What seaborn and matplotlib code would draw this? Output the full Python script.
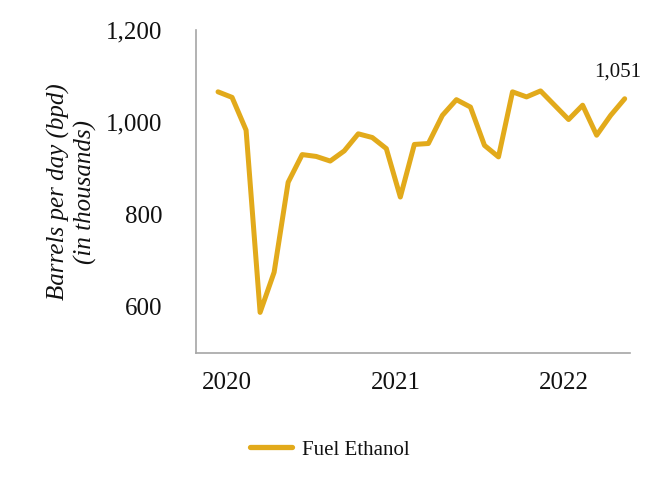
import numpy as np
import matplotlib
matplotlib.use('Agg')
import matplotlib.pyplot as plt
import pandas as pd
import seaborn as sns

# =========================
# DATA (monthly, Jan 2020 - Jun 2022)
# =========================
months = pd.date_range('2020-01-01', periods=30, freq='MS')
ethanol = [1066, 1054, 983, 588, 675, 870, 930, 926, 916, 938, 975, 967,
           943, 838, 952, 954, 1015, 1049, 1033, 950, 925, 1066, 1055, 1068,
           1037, 1006, 1037, 972, 1015, 1051]
year_labels = ['2020', '2021', '2022']
series_label = 'Fuel Ethanol'

line_color = '#E2AA1B'

# =========================
# PLOTTING SETUP
# =========================
sns.set_theme(style='white')
plt.rcParams['font.family'] = ['Liberation Serif', 'DejaVu Serif']
plt.rcParams['text.color'] = '#111111'
plt.rcParams['axes.labelcolor'] = '#111111'
plt.rcParams['xtick.color'] = '#111111'
plt.rcParams['ytick.color'] = '#111111'

df = pd.DataFrame({'idx': np.arange(len(months)), 'value': ethanol,
                   'series': series_label})

fig = plt.figure(figsize=(6.6, 5), dpi=100)
ax = fig.add_axes([0.297, 0.294, 0.658, 0.646])

sns.lineplot(data=df, x='idx', y='value', hue='series',
             palette=[line_color], linewidth=3.6, ax=ax, legend=True)

ax.set_ylim(500, 1200)
ax.set_yticks([600, 800, 1000, 1200])
ax.set_yticklabels([f'{v:,}' for v in [600, 800, 1000, 1200]], fontsize=18)
ax.set_xlim(-1.57, 29.4)
year_pos = [i for i, m in enumerate(months) if m.month == 1]
ax.set_xticks([p + 0.65 for p in year_pos])
ax.set_xticklabels(year_labels, fontsize=18)
ax.tick_params(axis='y', length=0, pad=24)
ax.tick_params(axis='x', length=0, pad=14)

for s in ['top', 'right']:
    ax.spines[s].set_visible(False)
for s in ['left', 'bottom']:
    ax.spines[s].set_color('#a6a6a6')
    ax.spines[s].set_linewidth(1.2)

ax.set_xlabel('')
ax.set_ylabel('Barrels per day (bpd)\n(in thousands)',
              fontsize=18, fontstyle='italic', linespacing=1.2, labelpad=7)

# last value label
ax.annotate(f'{ethanol[-1]:,}', xy=(df['idx'].iloc[-1], ethanol[-1]),
            xytext=(-5, 16), textcoords='offset points', ha='center',
            fontsize=15)

leg = ax.legend(loc='center', bbox_to_anchor=(0.309, -0.30),
                frameon=False, fontsize=15, handlelength=2.0,
                handletextpad=0.5)
for h in leg.get_lines():
    h.set_linewidth(3.8)

fig.savefig('out.png', dpi=100, facecolor='white')
